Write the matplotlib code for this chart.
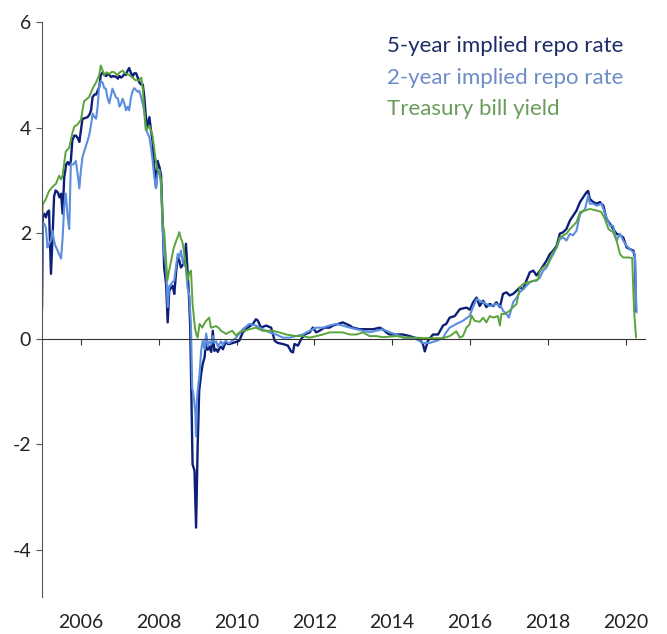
import matplotlib
matplotlib.use("Agg")
import matplotlib.pyplot as plt

plt.rcParams["font.family"] = ["Lato", "DejaVu Sans"]
plt.rcParams["axes.unicode_minus"] = False

# 5-year implied repo rate (decimal year, %)
t_5y = [2005.00, 2005.02, 2005.06, 2005.10, 2005.14, 2005.18, 2005.23, 2005.27, 2005.31, 2005.35,
        2005.40, 2005.45, 2005.49, 2005.53, 2005.57, 2005.62, 2005.66, 2005.70, 2005.74, 2005.78,
        2005.83, 2005.87, 2005.92, 2005.96, 2006.00, 2006.04, 2006.10, 2006.17, 2006.22, 2006.26,
        2006.30, 2006.35, 2006.39, 2006.43, 2006.47, 2006.51, 2006.56, 2006.60, 2006.65, 2006.69,
        2006.73, 2006.78, 2006.82, 2006.86, 2006.90, 2006.95, 2006.99, 2007.03, 2007.07, 2007.12,
        2007.16, 2007.20, 2007.24, 2007.28, 2007.33, 2007.37, 2007.42, 2007.46, 2007.50, 2007.54,
        2007.59, 2007.63, 2007.67, 2007.71, 2007.76, 2007.80, 2007.84, 2007.88, 2007.93, 2007.97,
        2008.02, 2008.06, 2008.10, 2008.14, 2008.19, 2008.23, 2008.27, 2008.32, 2008.36, 2008.40,
        2008.45, 2008.49, 2008.53, 2008.57, 2008.62, 2008.66, 2008.70, 2008.74, 2008.78, 2008.81,
        2008.84, 2008.87, 2008.92, 2008.96, 2009.00, 2009.04, 2009.09, 2009.13, 2009.18, 2009.22,
        2009.26, 2009.30, 2009.35, 2009.39, 2009.43, 2009.48, 2009.52, 2009.56, 2009.60, 2009.65,
        2009.69, 2009.73, 2009.78, 2009.82, 2009.95, 2010.07, 2010.16, 2010.29, 2010.42, 2010.50,
        2010.55, 2010.63, 2010.76, 2010.89, 2010.98, 2011.06, 2011.19, 2011.32, 2011.40, 2011.45,
        2011.49, 2011.58, 2011.66, 2011.75, 2011.88, 2011.96, 2012.05, 2012.13, 2012.26, 2012.39,
        2012.48, 2012.61, 2012.73, 2012.82, 2012.91, 2012.99, 2013.16, 2013.34, 2013.51, 2013.68,
        2013.76, 2013.85, 2013.94, 2014.11, 2014.28, 2014.45, 2014.58, 2014.71, 2014.79, 2014.84,
        2014.92, 2015.05, 2015.18, 2015.31, 2015.39, 2015.48, 2015.61, 2015.74, 2015.91, 2016.00,
        2016.08, 2016.17, 2016.25, 2016.34, 2016.42, 2016.51, 2016.60, 2016.68, 2016.77, 2016.85,
        2016.94, 2017.02, 2017.11, 2017.20, 2017.28, 2017.37, 2017.45, 2017.54, 2017.63, 2017.71,
        2017.80, 2017.88, 2017.97, 2018.05, 2018.14, 2018.23, 2018.31, 2018.40, 2018.48, 2018.57,
        2018.65, 2018.74, 2018.83, 2018.91, 2019.00, 2019.04, 2019.08, 2019.17, 2019.26, 2019.34,
        2019.43, 2019.51, 2019.60, 2019.68, 2019.77, 2019.86, 2019.94, 2020.03, 2020.11, 2020.20,
        2020.24, 2020.27]
v_5y = [0.60, 2.30, 2.37, 2.30, 2.40, 2.43, 1.23, 1.92, 2.70, 2.81,
        2.78, 2.68, 2.75, 2.37, 3.06, 3.30, 3.35, 3.30, 3.36, 3.76,
        3.85, 3.85, 3.80, 3.73, 3.95, 4.17, 4.18, 4.20, 4.25, 4.33,
        4.58, 4.63, 4.63, 4.70, 4.77, 5.00, 5.05, 5.00, 4.98, 5.02,
        5.00, 4.96, 4.98, 4.97, 4.97, 4.93, 4.98, 4.95, 4.97, 5.02,
        5.00, 5.08, 5.13, 5.05, 4.97, 5.03, 5.03, 4.95, 4.86, 4.82,
        4.82, 4.58, 4.20, 4.00, 4.20, 3.95, 3.76, 3.30, 2.87, 3.37,
        3.25, 3.10, 2.24, 1.35, 1.03, 0.31, 0.91, 0.97, 1.00, 0.85,
        1.29, 1.54, 1.48, 1.35, 1.40, 1.45, 1.80, 1.29, 0.78, 0.20,
        -1.10, -2.38, -2.50, -3.58, -2.06, -0.99, -0.67, -0.48, -0.35, 0.03,
        -0.21, -0.15, -0.25, 0.15, -0.23, -0.20, -0.25, -0.18, -0.15, -0.20,
        -0.12, -0.06, -0.10, -0.10, -0.07, -0.04, 0.12, 0.21, 0.28, 0.37,
        0.34, 0.21, 0.25, 0.21, -0.04, -0.08, -0.10, -0.13, -0.24, -0.26,
        -0.10, -0.13, -0.01, 0.08, 0.12, 0.21, 0.12, 0.15, 0.21, 0.21,
        0.25, 0.28, 0.31, 0.28, 0.25, 0.21, 0.18, 0.18, 0.18, 0.21,
        0.18, 0.12, 0.08, 0.08, 0.08, 0.05, 0.02, -0.01, -0.10, -0.24,
        -0.04, 0.08, 0.08, 0.25, 0.28, 0.40, 0.43, 0.56, 0.59, 0.55,
        0.69, 0.78, 0.62, 0.72, 0.60, 0.66, 0.62, 0.69, 0.60, 0.85,
        0.88, 0.82, 0.85, 0.91, 0.97, 0.94, 1.10, 1.26, 1.29, 1.20,
        1.29, 1.38, 1.48, 1.60, 1.67, 1.76, 1.99, 2.02, 2.08, 2.24,
        2.33, 2.43, 2.59, 2.68, 2.78, 2.80, 2.65, 2.59, 2.56, 2.59,
        2.52, 2.27, 2.18, 2.08, 1.99, 1.96, 1.92, 1.73, 1.70, 1.67,
        1.54, 0.53]

# 2-year implied repo rate
t_2y = [2005.00, 2005.02, 2005.06, 2005.10, 2005.14, 2005.18, 2005.23, 2005.27, 2005.31, 2005.35,
        2005.40, 2005.44, 2005.49, 2005.53, 2005.57, 2005.61, 2005.66, 2005.70, 2005.74, 2005.80,
        2005.87, 2005.92, 2005.96, 2006.00, 2006.04, 2006.13, 2006.17, 2006.21, 2006.26, 2006.30,
        2006.35, 2006.39, 2006.43, 2006.47, 2006.51, 2006.56, 2006.60, 2006.64, 2006.69, 2006.73,
        2006.77, 2006.81, 2006.86, 2006.90, 2006.95, 2006.99, 2007.03, 2007.07, 2007.12, 2007.16,
        2007.20, 2007.24, 2007.28, 2007.33, 2007.37, 2007.42, 2007.46, 2007.50, 2007.54, 2007.59,
        2007.63, 2007.67, 2007.71, 2007.76, 2007.80, 2007.84, 2007.88, 2007.93, 2007.97, 2008.02,
        2008.06, 2008.10, 2008.14, 2008.19, 2008.23, 2008.27, 2008.32, 2008.36, 2008.40, 2008.45,
        2008.49, 2008.53, 2008.57, 2008.62, 2008.66, 2008.70, 2008.74, 2008.79, 2008.83, 2008.86,
        2008.90, 2008.94, 2008.96, 2008.98, 2009.00, 2009.05, 2009.09, 2009.13, 2009.18, 2009.22,
        2009.26, 2009.30, 2009.35, 2009.39, 2009.43, 2009.48, 2009.52, 2009.56, 2009.60, 2009.65,
        2009.69, 2009.73, 2009.78, 2009.82, 2009.99, 2010.16, 2010.33, 2010.50, 2010.67, 2010.85,
        2011.02, 2011.19, 2011.36, 2011.53, 2011.70, 2011.88, 2012.05, 2012.22, 2012.39, 2012.56,
        2012.73, 2012.91, 2013.08, 2013.25, 2013.42, 2013.59, 2013.76, 2013.94, 2014.11, 2014.28,
        2014.45, 2014.62, 2014.79, 2014.96, 2015.14, 2015.31, 2015.39, 2015.48, 2015.65, 2015.82,
        2015.99, 2016.08, 2016.17, 2016.34, 2016.51, 2016.68, 2016.81, 2016.85, 2016.94, 2017.00,
        2017.06, 2017.11, 2017.20, 2017.28, 2017.37, 2017.45, 2017.54, 2017.63, 2017.71, 2017.80,
        2017.88, 2017.97, 2018.05, 2018.14, 2018.23, 2018.31, 2018.40, 2018.48, 2018.57, 2018.65,
        2018.74, 2018.83, 2018.96, 2019.04, 2019.08, 2019.17, 2019.26, 2019.38, 2019.51, 2019.60,
        2019.68, 2019.77, 2019.86, 2019.94, 2020.03, 2020.11, 2020.20, 2020.24, 2020.28]
v_2y = [1.00, 2.20, 2.18, 2.10, 1.73, 1.80, 1.86, 2.05, 1.85, 1.75,
        1.67, 1.60, 1.52, 1.92, 2.50, 2.75, 2.30, 2.08, 3.31, 3.30,
        3.37, 3.10, 2.85, 3.20, 3.44, 3.66, 3.75, 3.85, 4.05, 4.27,
        4.20, 4.17, 4.40, 4.80, 4.88, 4.85, 4.75, 4.74, 4.55, 4.46,
        4.60, 4.74, 4.65, 4.58, 4.55, 4.40, 4.45, 4.55, 4.45, 4.33,
        4.40, 4.33, 4.55, 4.70, 4.75, 4.71, 4.68, 4.70, 4.60, 4.45,
        4.30, 3.98, 3.90, 3.82, 3.63, 3.40, 3.10, 2.85, 3.12, 3.20,
        2.90, 2.11, 1.60, 1.35, 0.60, 1.00, 1.03, 1.08, 1.10, 1.40,
        1.61, 1.54, 1.67, 1.45, 1.40, 1.35, 0.97, 0.80, 0.21, -0.92,
        -1.11, -1.40, -1.85, -1.20, -0.99, -0.67, -0.23, -0.04, -0.20, 0.10,
        -0.15, -0.05, -0.10, 0.05, -0.08, -0.05, -0.15, -0.10, -0.05, -0.12,
        -0.06, -0.04, -0.08, -0.08, 0.02, 0.18, 0.28, 0.25, 0.18, 0.12,
        0.08, 0.02, 0.02, 0.05, 0.08, 0.15, 0.21, 0.21, 0.25, 0.28,
        0.25, 0.21, 0.18, 0.15, 0.12, 0.15, 0.18, 0.12, 0.08, 0.02,
        0.02, -0.01, -0.08, -0.08, -0.04, 0.02, 0.12, 0.21, 0.28, 0.34,
        0.43, 0.60, 0.75, 0.69, 0.62, 0.66, 0.60, 0.53, 0.47, 0.40,
        0.55, 0.69, 0.78, 0.88, 0.94, 1.00, 1.07, 1.10, 1.10, 1.16,
        1.29, 1.35, 1.48, 1.60, 1.73, 1.89, 1.92, 1.86, 1.99, 1.96,
        2.05, 2.36, 2.46, 2.72, 2.56, 2.56, 2.52, 2.56, 2.30, 2.14,
        2.14, 1.86, 1.99, 1.86, 1.76, 1.70, 1.64, 1.60, 0.50]

# Treasury bill yield
t_tb = [2005.00, 2005.02, 2005.10, 2005.18, 2005.27, 2005.36, 2005.44, 2005.49, 2005.53, 2005.61,
        2005.70, 2005.78, 2005.83, 2005.91, 2006.00, 2006.08, 2006.21, 2006.30, 2006.39, 2006.47,
        2006.51, 2006.56, 2006.60, 2006.66, 2006.73, 2006.80, 2006.86, 2006.93, 2007.00, 2007.07,
        2007.15, 2007.24, 2007.33, 2007.40, 2007.50, 2007.55, 2007.59, 2007.63, 2007.67, 2007.76,
        2007.84, 2007.93, 2007.97, 2008.02, 2008.06, 2008.10, 2008.14, 2008.18, 2008.22, 2008.27,
        2008.32, 2008.38, 2008.45, 2008.50, 2008.53, 2008.57, 2008.61, 2008.66, 2008.70, 2008.74,
        2008.79, 2008.83, 2008.87, 2008.93, 2008.96, 2009.00, 2009.05, 2009.12, 2009.18, 2009.22,
        2009.30, 2009.34, 2009.40, 2009.47, 2009.55, 2009.60, 2009.67, 2009.73, 2009.80, 2009.89,
        2009.99, 2010.07, 2010.33, 2010.50, 2010.67, 2010.93, 2011.10, 2011.28, 2011.53, 2011.70,
        2011.88, 2012.05, 2012.22, 2012.39, 2012.56, 2012.73, 2012.91, 2013.08, 2013.25, 2013.42,
        2013.59, 2013.76, 2014.11, 2014.36, 2014.62, 2014.96, 2015.31, 2015.48, 2015.65, 2015.74,
        2015.82, 2015.91, 2015.99, 2016.04, 2016.12, 2016.25, 2016.34, 2016.42, 2016.51, 2016.60,
        2016.72, 2016.77, 2016.81, 2016.90, 2017.02, 2017.11, 2017.20, 2017.28, 2017.37, 2017.50,
        2017.67, 2017.75, 2017.80, 2017.88, 2018.01, 2018.10, 2018.23, 2018.31, 2018.40, 2018.48,
        2018.57, 2018.65, 2018.74, 2018.83, 2018.96, 2019.08, 2019.26, 2019.38, 2019.47, 2019.56,
        2019.68, 2019.77, 2019.86, 2019.94, 2020.07, 2020.17, 2020.22, 2020.27]
v_tb = [2.20, 2.55, 2.65, 2.80, 2.88, 2.94, 3.09, 3.02, 3.10, 3.55,
        3.62, 3.90, 4.02, 4.06, 4.15, 4.50, 4.58, 4.74, 4.86, 5.00,
        5.18, 5.08, 5.00, 5.05, 5.02, 5.06, 5.05, 5.00, 5.05, 5.08,
        5.03, 5.00, 4.95, 4.90, 4.90, 4.95, 4.74, 4.30, 3.95, 4.04,
        3.85, 3.35, 3.19, 3.15, 3.00, 2.17, 2.05, 1.60, 1.10, 1.30,
        1.48, 1.70, 1.86, 1.95, 2.02, 1.90, 1.83, 1.60, 1.35, 1.10,
        1.25, 1.29, 0.66, 0.21, 0.10, 0.02, 0.28, 0.21, 0.30, 0.34,
        0.40, 0.21, 0.22, 0.24, 0.20, 0.15, 0.12, 0.09, 0.12, 0.15,
        0.06, 0.12, 0.18, 0.21, 0.15, 0.15, 0.12, 0.08, 0.05, 0.05,
        0.02, 0.05, 0.08, 0.12, 0.12, 0.12, 0.08, 0.08, 0.12, 0.05,
        0.05, 0.03, 0.05, 0.02, 0.02, 0.01, 0.01, 0.05, 0.14, 0.02,
        0.05, 0.21, 0.27, 0.44, 0.34, 0.32, 0.40, 0.31, 0.43, 0.40,
        0.43, 0.25, 0.47, 0.47, 0.53, 0.60, 0.66, 0.97, 1.04, 1.07,
        1.10, 1.13, 1.29, 1.35, 1.42, 1.60, 1.73, 1.92, 1.96, 1.99,
        2.08, 2.14, 2.21, 2.40, 2.43, 2.46, 2.43, 2.40, 2.27, 2.08,
        2.02, 1.86, 1.60, 1.54, 1.54, 1.53, 0.53, 0.03]

labels = ["5-year implied repo rate", "2-year implied repo rate", "Treasury bill yield"]
line_colors = ["#0d1f78", "#5b8ee0", "#5aa43c"]
text_colors = ["#1b2d66", "#6d8cc6", "#6a9d5c"]
year_ticks = [2006, 2008, 2010, 2012, 2014, 2016, 2018, 2020]
y_ticks = [-4, -2, 0, 2, 4, 6]


def main() -> None:
    fig = plt.figure(figsize=(6.67, 6.34), dpi=100)
    ax = fig.add_axes([0.063, 0.058, 0.904, 0.907])

    ax.plot(t_5y, v_5y, color=line_colors[0], linewidth=1.7, label=labels[0])
    ax.plot(t_2y, v_2y, color=line_colors[1], linewidth=1.5, label=labels[1])
    ax.plot(t_tb, v_tb, color=line_colors[2], linewidth=1.4, label=labels[2])

    ax.set_xlim(2005.0, 2020.5)
    ax.set_ylim(-4.9, 6)

    ax.spines["top"].set_visible(False)
    ax.spines["right"].set_visible(False)
    ax.spines["left"].set_color("#555555")
    ax.spines["bottom"].set_position(("data", 0))
    ax.spines["bottom"].set_color("#333333")

    ax.set_yticks(y_ticks)
    ax.tick_params(axis="y", length=4, color="#555555", labelsize=14, labelcolor="#222222", pad=4)
    ax.set_xticks(year_ticks)
    ax.tick_params(axis="x", length=4, color="#333333", labelbottom=False)

    # year labels sit at the bottom of the frame, not on the zero line
    sec = ax.secondary_xaxis(0)
    sec.set_xticks(year_ticks)
    sec.spines["bottom"].set_visible(False)
    sec.tick_params(axis="x", length=0, pad=12, labelsize=14, labelcolor="#222222")

    leg = ax.legend(loc="upper left", bbox_to_anchor=(0.58, 0.943), bbox_transform=fig.transFigure,
                    frameon=False, handlelength=0, handletextpad=0, labelspacing=0.52,
                    fontsize=16, labelcolor=text_colors, borderaxespad=0, borderpad=0)
    for h in leg.legend_handles:
        h.set_visible(False)

    fig.savefig("out.png", dpi=100)


if __name__ == "__main__":
    main()
